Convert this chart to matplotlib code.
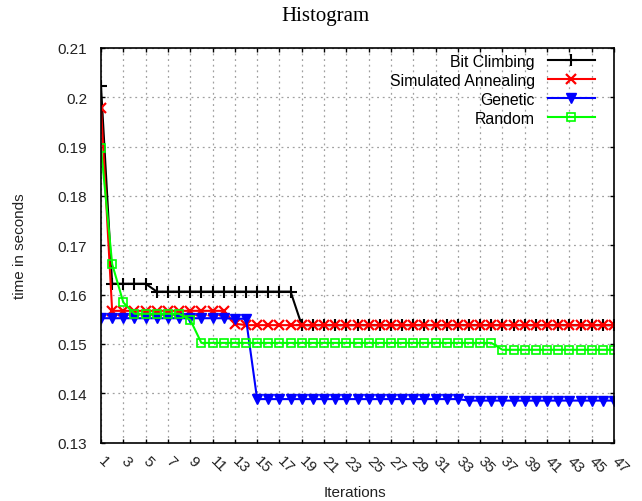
import matplotlib
matplotlib.use("Agg")
import matplotlib.pyplot as plt

# iteration numbers shown on the x axis
iterations = list(range(1, 48))

bit_climbing = [0.2023,
                0.1622, 0.1622, 0.1622, 0.1622,
                0.1606, 0.1606, 0.1606, 0.1606, 0.1606, 0.1606, 0.1606,
                0.1606, 0.1606, 0.1606, 0.1606, 0.1606, 0.1606,
                0.1538, 0.1538, 0.1538, 0.1538, 0.1538, 0.1538, 0.1538, 0.1538,
                0.1538, 0.1538, 0.1538, 0.1538, 0.1538, 0.1538, 0.1538, 0.1538,
                0.1538, 0.1538, 0.1538, 0.1538, 0.1538, 0.1538, 0.1538, 0.1538,
                0.1538, 0.1538, 0.1538, 0.1538, 0.1538]
simulated_annealing = [0.1979,
                       0.1567, 0.1567, 0.1567, 0.1567, 0.1567, 0.1567, 0.1567,
                       0.1567, 0.1567, 0.1567, 0.1567,
                       0.1541,
                       0.1538, 0.1538, 0.1538, 0.1538, 0.1538, 0.1538, 0.1538,
                       0.1538, 0.1538, 0.1538, 0.1538, 0.1538, 0.1538, 0.1538,
                       0.1538, 0.1538, 0.1538, 0.1538, 0.1538, 0.1538, 0.1538,
                       0.1538, 0.1538, 0.1538, 0.1538, 0.1538, 0.1538, 0.1538,
                       0.1538, 0.1538, 0.1538, 0.1538, 0.1538, 0.1538]
genetic = [0.1552, 0.1552, 0.1552, 0.1552, 0.1552, 0.1552, 0.1552,
           0.1552, 0.1552, 0.1552, 0.1552, 0.1552, 0.1551, 0.1551,
           0.1388, 0.1388, 0.1388, 0.1388, 0.1388, 0.1388, 0.1388,
           0.1388, 0.1388, 0.1388, 0.1388, 0.1388, 0.1388, 0.1388,
           0.1388, 0.1388, 0.1388, 0.1388, 0.1388,
           0.1385, 0.1385, 0.1385, 0.1385, 0.1385, 0.1385, 0.1385,
           0.1385, 0.1385, 0.1385, 0.1385, 0.1385, 0.1385, 0.1385]
random_search = [0.1897, 0.1662, 0.1584,
                 0.1561, 0.1561, 0.1561, 0.1561, 0.1561,
                 0.1549,
                 0.1502, 0.1502, 0.1502, 0.1502, 0.1502, 0.1502, 0.1502,
                 0.1502, 0.1502, 0.1502, 0.1502, 0.1502, 0.1502, 0.1502,
                 0.1502, 0.1502, 0.1502, 0.1502, 0.1502, 0.1502, 0.1502,
                 0.1502, 0.1502, 0.1502, 0.1502, 0.1502, 0.1502,
                 0.1488, 0.1488, 0.1488, 0.1488, 0.1488, 0.1488, 0.1488,
                 0.1488, 0.1488, 0.1488, 0.1488]

x_ticks = iterations[::2]
y_ticks = [0.13, 0.14, 0.15, 0.16, 0.17, 0.18, 0.19, 0.20, 0.21]
y_labels = ["0.13", "0.14", "0.15", "0.16", "0.17", "0.18", "0.19", "0.2", "0.21"]

plt.rcParams['font.family'] = ['Liberation Sans', 'DejaVu Sans']
plt.rcParams['font.size'] = 11

fig = plt.figure(figsize=(6.42, 5.02), dpi=100)
ax = fig.add_axes([101 / 642, 1 - 443.5 / 502, 513 / 642, 394.5 / 502])

ax.plot(iterations, bit_climbing, color='black', lw=1.5, marker='+', ms=8, mew=1.5,
        label='Bit Climbing')
ax.plot(iterations, simulated_annealing, color='red', lw=1.5, marker='x', ms=6.5, mew=1.6,
        label='Simulated Annealing')
ax.plot(iterations, genetic, color='blue', lw=1.5, marker='v', ms=6.5,
        label='Genetic')
ax.plot(iterations, random_search, color='#00ff00', lw=1.5, marker='s', ms=5.5, mew=1.2,
        mfc='none', label='Random')

ax.set_xlim(1, 47)
ax.set_ylim(0.13, 0.21)
ax.set_xticks(x_ticks)
ax.set_xticklabels([str(v) for v in x_ticks], rotation=-45, ha='left', va='center',
                   rotation_mode='anchor', color='#222222')
ax.set_yticks(y_ticks)
ax.set_yticklabels(y_labels, color='#222222')
ax.tick_params(axis='both', direction='in', length=3, width=1, top=True, right=True)
ax.tick_params(axis='y', pad=10)
ax.tick_params(axis='x', pad=11)
for s in ax.spines.values():
    s.set_linewidth(1.2)

ax.grid(True, color='#a0a0a0', linestyle=(0, (1.5, 3)), linewidth=0.9)

fig.text(0.507, 1 - 17 / 502, 'Histogram', ha='center', va='center',
         family='Liberation Serif', fontsize=15)
fig.text(20 / 642, 1 - 246 / 502, 'time in seconds', rotation=90, ha='center',
         va='center', color='#222222')
fig.text(355 / 642, 1 - 493 / 502, 'Iterations', ha='center', va='center',
         color='#222222')

ax.legend(loc='upper right', bbox_to_anchor=(595 / 642, 1 - 55 / 502),
          bbox_transform=fig.transFigure, frameon=False, markerfirst=False,
          handlelength=3.0, handletextpad=0.8, labelspacing=0.25,
          borderpad=0, borderaxespad=0, fontsize=11.4)

fig.savefig('out.png', dpi=100)
